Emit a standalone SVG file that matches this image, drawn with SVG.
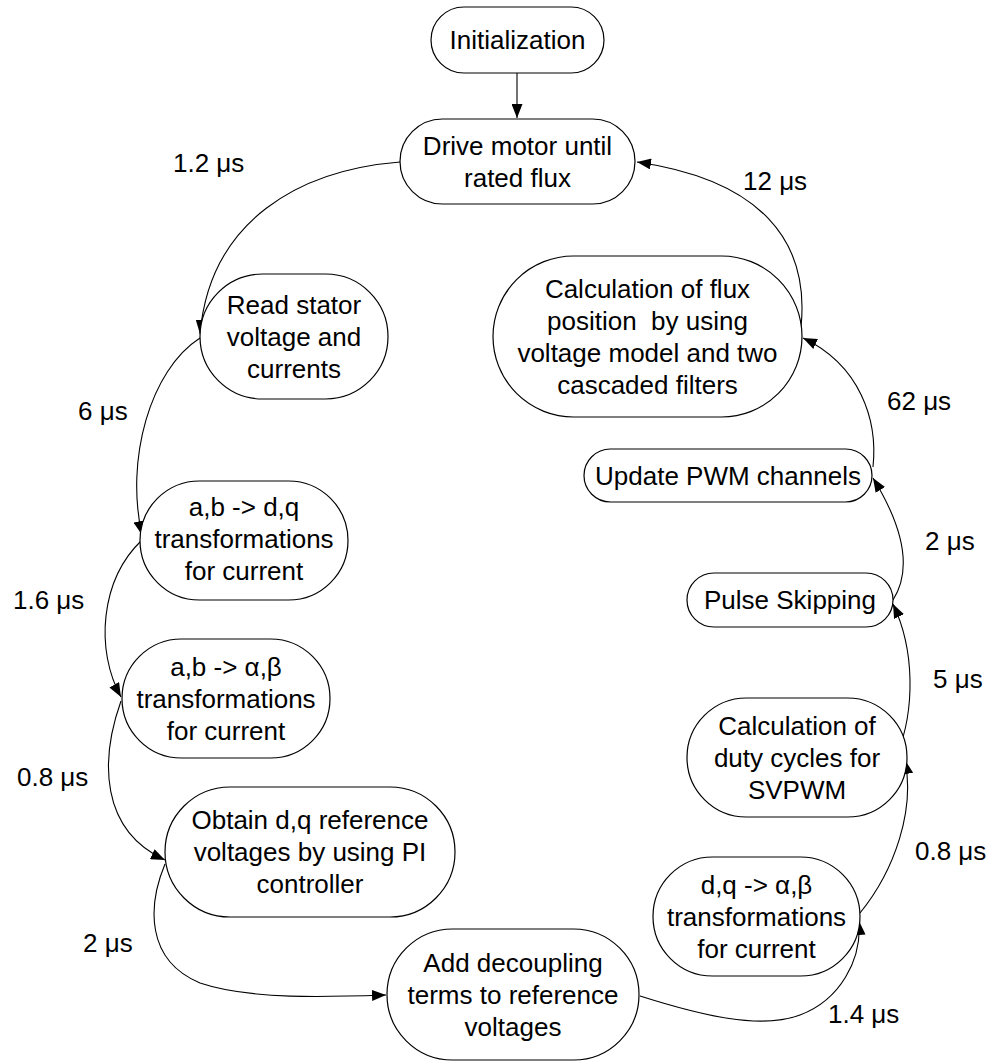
<svg xmlns="http://www.w3.org/2000/svg" width="993" height="1061" viewBox="0 0 993 1061">
<style>
.n{fill:#fff;stroke:#000;stroke-width:1.2}
text{font-family:"Liberation Sans",Arial,Helvetica,sans-serif;font-size:26px;fill:#000}
.c{text-anchor:middle}
.e{fill:none;stroke:#000;stroke-width:1.1;marker-end:url(#a)}
</style>
<defs>
<marker id="a" markerUnits="userSpaceOnUse" markerWidth="15" markerHeight="11" refX="14" refY="5.5" orient="auto">
<path d="M0,0 L14,5.5 L0,11 z" fill="#000"/>
</marker>
</defs>
<rect width="993" height="1061" fill="#fff"/>
<g id="connectors">
<path class="e" d="M517,73 L517,118"/>
<path class="e" d="M400,162 C300,170 210,220 200,334"/>
<path class="e" d="M200,338 C150,370 125,460 142,535"/>
<path class="e" d="M142,540 C100,580 95,650 121,697"/>
<path class="e" d="M121,701 C100,760 100,830 165,860"/>
<path class="e" d="M165,864 C148,905 145,960 200,983 C250,1000 330,997 386,995"/>
<path class="e" d="M640,996 C700,1015 760,1030 800,1015 C840,1000 862,960 859,921"/>
<path class="e" d="M860,913 C895,870 915,810 905,760"/>
<path class="e" d="M897,755 C915,710 915,650 893,604"/>
<path class="e" d="M893,600 C912,570 905,530 873,478"/>
<path class="e" d="M873,467 C878,420 860,365 803,338"/>
<path class="e" d="M801,327 C810,240 760,180 637,162"/>
</g>
<g id="labels">
<text x="173" y="172">1.2 μs</text>
<text x="743" y="190">12 μs</text>
<text x="78" y="420">6 μs</text>
<text x="887" y="410">62 μs</text>
<text x="925" y="550">2 μs</text>
<text x="13" y="609">1.6 μs</text>
<text x="933" y="688">5 μs</text>
<text x="17" y="786">0.8 μs</text>
<text x="915" y="860">0.8 μs</text>
<text x="83" y="952">2 μs</text>
<text x="828" y="1023">1.4 μs</text>
</g>
<g id="init">
<rect class="n" x="431" y="7" width="173" height="66" rx="33"/>
<text class="c" x="517.5" y="49">Initialization</text>
</g>
<g id="drive">
<rect class="n" x="400" y="119" width="235" height="85" rx="42.5"/>
<text class="c" x="517.5" y="155">Drive motor until</text>
<text class="c" x="517.5" y="187">rated flux</text>
</g>
<g id="read">
<rect class="n" x="200" y="274" width="188" height="125" rx="62.5"/>
<text class="c" x="294" y="313.5">Read stator</text>
<text class="c" x="294" y="345.5">voltage and</text>
<text class="c" x="294" y="377.5">currents</text>
</g>
<g id="abdq">
<rect class="n" x="140" y="481" width="208" height="119" rx="59.5"/>
<text class="c" x="244" y="516">a,b -&gt; d,q</text>
<text class="c" x="244" y="548">transformations</text>
<text class="c" x="244" y="580">for current</text>
</g>
<g id="abab">
<rect class="n" x="122" y="639" width="208" height="119" rx="59.5"/>
<text class="c" x="226" y="675.5">a,b -&gt; α,β</text>
<text class="c" x="226" y="707.5">transformations</text>
<text class="c" x="226" y="739.5">for current</text>
</g>
<g id="obtain">
<rect class="n" x="165" y="787" width="290" height="130" rx="65"/>
<text class="c" x="310" y="829">Obtain d,q reference</text>
<text class="c" x="310" y="861">voltages by using PI</text>
<text class="c" x="310" y="893">controller</text>
</g>
<g id="decouple">
<rect class="n" x="387" y="929" width="252" height="131" rx="65.5"/>
<text class="c" x="513" y="971.5">Add decoupling</text>
<text class="c" x="513" y="1003.5">terms to reference</text>
<text class="c" x="513" y="1035.5">voltages</text>
</g>
<g id="dqab">
<rect class="n" x="653" y="857" width="207" height="119" rx="59.5"/>
<text class="c" x="756.5" y="893.5">d,q -&gt; α,β</text>
<text class="c" x="756.5" y="925.5">transformations</text>
<text class="c" x="756.5" y="957.5">for current</text>
</g>
<g id="duty">
<rect class="n" x="687" y="698" width="220" height="119" rx="59.5"/>
<text class="c" x="797" y="734.5">Calculation of</text>
<text class="c" x="797" y="766.5">duty cycles for</text>
<text class="c" x="797" y="798.5">SVPWM</text>
</g>
<g id="pulse">
<rect class="n" x="687" y="573" width="206" height="54" rx="27"/>
<text class="c" x="790" y="609">Pulse Skipping</text>
</g>
<g id="pwm">
<rect class="n" x="584" y="449" width="288" height="53" rx="26.5"/>
<text class="c" x="728" y="484.5">Update PWM channels</text>
</g>
<g id="flux">
<rect class="n" x="493" y="256" width="309" height="161" rx="80.5"/>
<text class="c" x="647.5" y="297.5">Calculation of flux</text>
<text class="c" x="647.5" y="329.5" style="white-space:pre">position  by using</text>
<text class="c" x="647.5" y="361.5">voltage model and two</text>
<text class="c" x="647.5" y="393.5">cascaded filters</text>
</g>
</svg>
